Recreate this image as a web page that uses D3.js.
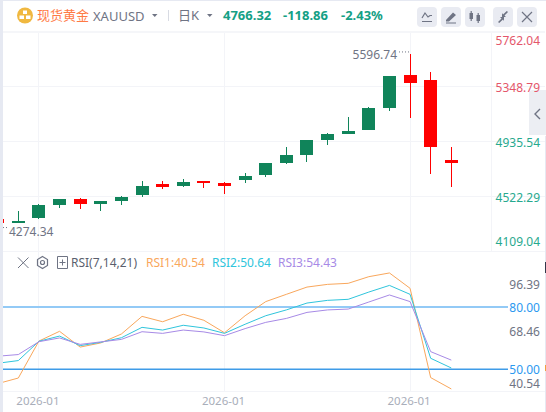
<!DOCTYPE html>
<html>
<head>
<meta charset="utf-8">
<script src="https://cdn.jsdelivr.net/npm/d3@7"></script>
<style>
  html, body { margin: 0; padding: 0; background: #fff; overflow: hidden; }
  svg { display: block; }
  text { font-family: "Noto Sans", "Noto Sans CJK SC", sans-serif; }
</style>
</head>
<body>
<div id="chart"></div>
<script>
// candles (first one is cut by the left edge)
var opens  = [4354, 4326, 4361, 4459, 4504, 4467, 4489, 4534.5, 4617, 4602, 4640, 4625, 4647, 4685, 4775.5, 4836, 4949, 4994, 5024, 5190, 5438, 5400.5, 4798];
var highs  = [4354, 4414, 4467, 4504, 4512, 4489, 4527, 4640, 4640, 4655, 4640, 4632, 4700, 4775.5, 4896, 4949, 5001, 5122, 5197, 5431, 5596.74, 5461, 4896];
var lows   = [4324, 4326, 4354, 4437, 4429, 4414, 4459, 4519, 4580, 4595, 4587, 4542, 4625, 4670, 4768, 4783, 4911, 4994, 5024, 5167, 5114, 4695, 4595];
var closes = [4324, 4336, 4459, 4504, 4469, 4489, 4519, 4602, 4595, 4632, 4625, 4602, 4678, 4775.5, 4836, 4949, 4994, 5016.5, 5190, 5431, 5378, 4898, 4772];

var rsi1 = [43.1, 45.8, 63.6, 68.3, 60.7, 62.7, 67.0, 75.5, 72.9, 76.5, 73.6, 67.6, 75.8, 82.6, 86.1, 89.6, 90.9, 91.4, 94.6, 96.39, 89.0, 46.0, 40.54];
var rsi2 = [52.9, 54.2, 63.5, 66.0, 61.4, 63.0, 65.2, 70.2, 68.9, 71.2, 69.9, 67.3, 71.7, 75.8, 78.6, 81.9, 83.2, 83.7, 87.2, 90.4, 86.1, 55.3, 50.64];
var rsi3 = [56.3, 57.1, 63.3, 65.1, 62.0, 63.2, 64.4, 68.1, 67.3, 68.9, 68.0, 66.2, 69.6, 72.6, 74.5, 77.4, 78.6, 79.0, 82.4, 85.8, 82.6, 58.5, 54.43];

var priceTicks = [5762.04, 5348.79, 4935.54, 4522.29, 4109.04];
var rsiTicks = [96.39, 80, 68.46, 50, 40.54];
var rsiLevels = [80, 50];
var dateTicks = [2, 11, 20];
var dateLabels = ["2026-01", "2026-01", "2026-01"];
var highMark = 5596.74;
var lowMark = 4274.34;

var width = 546, height = 412;
var upColor = "#10845a", downColor = "#ff0000", gridColor = "#f3f4f8";
var labelGrey = "#6f7484";
var rsiColors = ["#f9a75c", "#2fc5dc", "#a78ae6"];

var svg = d3.select("#chart").append("svg").attr("width", width).attr("height", height);

var x = d3.scaleLinear().domain([0, 22]).range([-2.3, 451.3]);
var y = d3.scaleLinear().domain([4109.04, 5762.04]).range([251.5, 32]);
var yRsi = d3.scaleLinear().domain([50, 80]).range([369.3, 307]);

function crisp(v) { return Math.floor(v) + 0.5; }

svg.append("clipPath").attr("id", "plot").append("rect")
  .attr("x", 3).attr("y", 0).attr("width", 488).attr("height", height);

// --- grid
var grid = svg.append("g").attr("stroke", gridColor).attr("stroke-width", 1);
grid.selectAll(".h").data(priceTicks).enter().append("line")
  .attr("x1", 3).attr("x2", 545)
  .attr("y1", function(d){ return crisp(y(d)); })
  .attr("y2", function(d){ return crisp(y(d)); });
grid.append("line").attr("x1", 3).attr("x2", 545).attr("y1", 391.5).attr("y2", 391.5);
grid.selectAll(".v").data(dateTicks).enter().append("line")
  .attr("x1", function(d){ return crisp(x(d)); })
  .attr("x2", function(d){ return crisp(x(d)); })
  .attr("y1", 32).attr("y2", 391);
grid.append("line").attr("x1", 491.5).attr("x2", 491.5).attr("y1", 32).attr("y2", 252);
svg.append("rect").attr("x", 3).attr("y", 31).attr("width", 542).attr("height", 2).attr("fill", "#f5f6f9");

// --- side handle, sits under the axis labels
svg.append("path").attr("fill", "#eceef3")
  .attr("d", "M546 90H533a4 4 0 0 0 -4 4V135H546Z");
svg.append("path").attr("fill", "none").attr("stroke", "#6f7484").attr("stroke-width", 1.4)
  .attr("d", "M540 109L535 114L540 119");

// --- candles
var candles = svg.append("g").attr("clip-path", "url(#plot)")
  .selectAll("g").data(opens).enter().append("g")
  .attr("fill", function(d,i){ return closes[i] >= d ? upColor : downColor; })
  .attr("stroke", function(d,i){ return closes[i] >= d ? upColor : downColor; });

candles.append("line")
  .attr("x1", function(d,i){ return crisp(x(i)); })
  .attr("x2", function(d,i){ return crisp(x(i)); })
  .attr("y1", function(d,i){ return Math.round(y(highs[i])); })
  .attr("y2", function(d,i){ return Math.round(y(lows[i])); });

candles.append("rect")
  .attr("stroke", "none")
  .attr("x", function(d,i){ return Math.floor(x(i)) - 6; })
  .attr("width", 13)
  .attr("y", function(d,i){ return Math.round(y(Math.max(d, closes[i]))); })
  .attr("height", function(d,i){
    return Math.max(2, Math.round(y(Math.min(d, closes[i]))) - Math.round(y(Math.max(d, closes[i]))));
  });

// --- high / low marks
var hiY = y(highMark), loY = y(lowMark);
svg.append("text").text(highMark).attr("x", 397).attr("y", hiY + 1).attr("text-anchor", "end")
  .attr("dominant-baseline", "central").attr("font-size", 12).attr("fill", labelGrey);
svg.append("line").attr("x1", 399).attr("x2", 409).attr("y1", hiY - 2).attr("y2", hiY - 2)
  .attr("stroke", labelGrey).attr("stroke-dasharray", "1,2");
svg.append("text").text(lowMark).attr("x", 9).attr("y", loY + 2)
  .attr("dominant-baseline", "central").attr("font-size", 12).attr("fill", labelGrey);
svg.append("line").attr("x1", 3).attr("x2", 8).attr("y1", loY - 2).attr("y2", loY - 2)
  .attr("stroke", labelGrey).attr("stroke-dasharray", "1,2");

// --- price axis
var priceAxis = svg.append("g").attr("transform", "translate(540,0)")
  .call(d3.axisRight(y).tickValues(priceTicks).tickSize(0).tickFormat(d3.format(".2f")));
priceAxis.select(".domain").remove();
priceAxis.selectAll(".tick").attr("transform", function(d){
  return "translate(0," + Math.max(40, Math.min(241.7, y(d) + 1)) + ")";
});
priceAxis.selectAll("text")
  .attr("x", 0).attr("dy", null).attr("text-anchor", "end").attr("dominant-baseline", "central")
  .attr("font-size", 12).attr("font-family", null)
  .attr("fill", function(d){ return d > 5000 ? "#e4566a" : "#27a98e"; });

// --- rsi pane
rsiLevels.forEach(function(level, i){
  svg.append("line").attr("x1", 3).attr("x2", 508)
    .attr("y1", yRsi(level)).attr("y2", yRsi(level))
    .attr("stroke", i == 0 ? "#93caf6" : "#3f9ce8")
    .attr("stroke-width", i == 0 ? 2 : 1.4);
});

var rsiLine = d3.line()
  .x(function(d,i){ return x(i); })
  .y(function(d){ return yRsi(d); });

svg.append("g").attr("clip-path", "url(#plot)").selectAll("path")
  .data([rsi1, rsi2, rsi3]).enter().append("path")
  .attr("fill", "none")
  .attr("stroke-width", 1)
  .attr("stroke", function(d,i){ return rsiColors[i]; })
  .attr("d", rsiLine);

var rsiAxis = svg.append("g").attr("transform", "translate(540,0)")
  .call(d3.axisRight(yRsi).tickValues(rsiTicks).tickSize(0).tickFormat(d3.format(".2f")));
rsiAxis.select(".domain").remove();
rsiAxis.selectAll(".tick").attr("transform", function(d){
  return "translate(0," + Math.max(284.7, Math.min(383, yRsi(d) + 0.5)) + ")";
});
rsiAxis.selectAll("text")
  .attr("x", 0).attr("dy", null).attr("text-anchor", "end").attr("dominant-baseline", "central")
  .attr("font-size", 12).attr("font-family", null)
  .attr("fill", function(d){ return rsiLevels.indexOf(d) >= 0 ? "#2b99f0" : labelGrey; });

// --- date axis
var dateAxis = svg.append("g").attr("transform", "translate(-1.5,400)")
  .call(d3.axisBottom(x).tickValues(dateTicks).tickSize(0)
    .tickFormat(function(d,i){ return dateLabels[i]; }));
dateAxis.select(".domain").remove();
dateAxis.selectAll("text")
  .attr("y", 0).attr("dy", null).attr("dominant-baseline", "central")
  .attr("font-size", 11.5).attr("font-family", null).attr("fill", "#a9aeba");

// --- rsi header
function label(txt, px, py, size, color, weight) {
  return svg.append("text").text(txt).attr("x", px).attr("y", py)
    .attr("dominant-baseline", "central").attr("font-size", size)
    .attr("fill", color).attr("font-weight", weight || null);
}
var iconGrey = "#6f7484";
svg.append("path").attr("fill", "none").attr("stroke", iconGrey)
  .attr("d", "M18 257.5L28.5 268M28.5 257.5L18 268");
svg.append("path").attr("fill", "none").attr("stroke", iconGrey).attr("stroke-width", 1.2)
  .attr("d", "M42.5 256.5L47.5 259.5V265.5L42.5 268.5L37.5 265.5V259.5Z");
svg.append("circle").attr("cx", 42.5).attr("cy", 262.5).attr("r", 2)
  .attr("fill", "none").attr("stroke", iconGrey).attr("stroke-width", 1.2);
svg.append("path").attr("fill", "none").attr("stroke", iconGrey)
  .attr("d", "M57.5 256.5H67.5V268.5H57.5ZM59.5 262.5H65.5M62.5 259.5V265.5");
label("RSI(7,14,21)", 71, 262, 12, "#5a5f6e");
label("RSI1:40.54", 146, 262, 12, rsiColors[0]);
label("RSI2:50.64", 212, 262, 12, rsiColors[1]);
label("RSI3:54.43", 278, 262, 12, rsiColors[2]);

// --- title bar
svg.append("circle").attr("cx", 25).attr("cy", 15.5).attr("r", 8).attr("fill", "#f0b840");
svg.append("path").attr("fill", "#fff").attr("d", "M23 10.5h4v3.5h-4ZM19.5 15.5h4.5v3.5h-4.5ZM26 15.5h4.5v3.5h-4.5Z");
label("现货黄金", 37, 14.5, 13, "#ff7a45");
label("XAUUSD", 93, 15.5, 13, labelGrey);
svg.append("path").attr("fill", labelGrey).attr("d", "M152 14h5.5l-2.75 3Z");
svg.append("line").attr("x1", 168.5).attr("x2", 168.5).attr("y1", 10).attr("y2", 21).attr("stroke", "#d8dbe3");
label("日K", 178, 14.5, 13, labelGrey);
svg.append("path").attr("fill", labelGrey).attr("d", "M207 14h5.5l-2.75 3Z");
label("4766.32", 223, 14.5, 13, "#14a085", "bold");
label("-118.86", 283, 14.5, 13, "#14a085", "bold");
label("-2.43%", 341, 14.5, 13, "#14a085", "bold");

// --- toolbar buttons
var buttonX = [417, 441, 465, 493, 517];
svg.selectAll(".btn").data(buttonX).enter().append("rect")
  .attr("x", function(d){ return d; }).attr("y", 7)
  .attr("width", 20).attr("height", 20).attr("rx", 4).attr("fill", "#e9ebf2");
var tools = svg.append("g").attr("fill", "none").attr("stroke", iconGrey).attr("stroke-width", 1.2);
tools.append("path").attr("d", "M422 18L425 13L428 17L430 15.5H432M422 21.5H432");
tools.append("path").attr("fill", iconGrey).attr("stroke", "none").attr("d", "M446 20L453 12.5L456 15L449 21.5H446ZM446 22.5H456V23.5H446Z");
tools.append("path").attr("fill", iconGrey).attr("stroke", "none").attr("d", "M469.5 13h3.5v6h-3.5ZM476.5 15h3.5v6h-3.5Z");
tools.append("path").attr("d", "M471.2 11V21M478.2 13V23");
tools.append("path").attr("fill", iconGrey).attr("stroke", "none").attr("d", "M498 22L501.5 18.5L500 17H504V21L503 19.5L499.2 23ZM508 12L504.5 15.5L506 17H502V13L503 14.5L506.8 11Z");
tools.append("path").attr("d", "M522 12L532 22M532 12L522 22");

// --- panel border
svg.append("rect").attr("x", 0).attr("y", 0).attr("width", 3).attr("height", height).attr("fill", "#e6e9f2");
svg.append("rect").attr("x", 0).attr("y", 0).attr("width", width).attr("height", 1).attr("fill", "#e6e9f2");
svg.append("rect").attr("x", 545).attr("y", 136).attr("width", 1).attr("height", height - 136).attr("fill", "#e6e9f2");
svg.append("rect").attr("x", 545).attr("y", 262).attr("width", 1).attr("height", 11).attr("fill", "#33384a");
svg.append("rect").attr("x", 545).attr("y", 365).attr("width", 1).attr("height", 6).attr("fill", "#f0a040");
</script>
</body>
</html>
